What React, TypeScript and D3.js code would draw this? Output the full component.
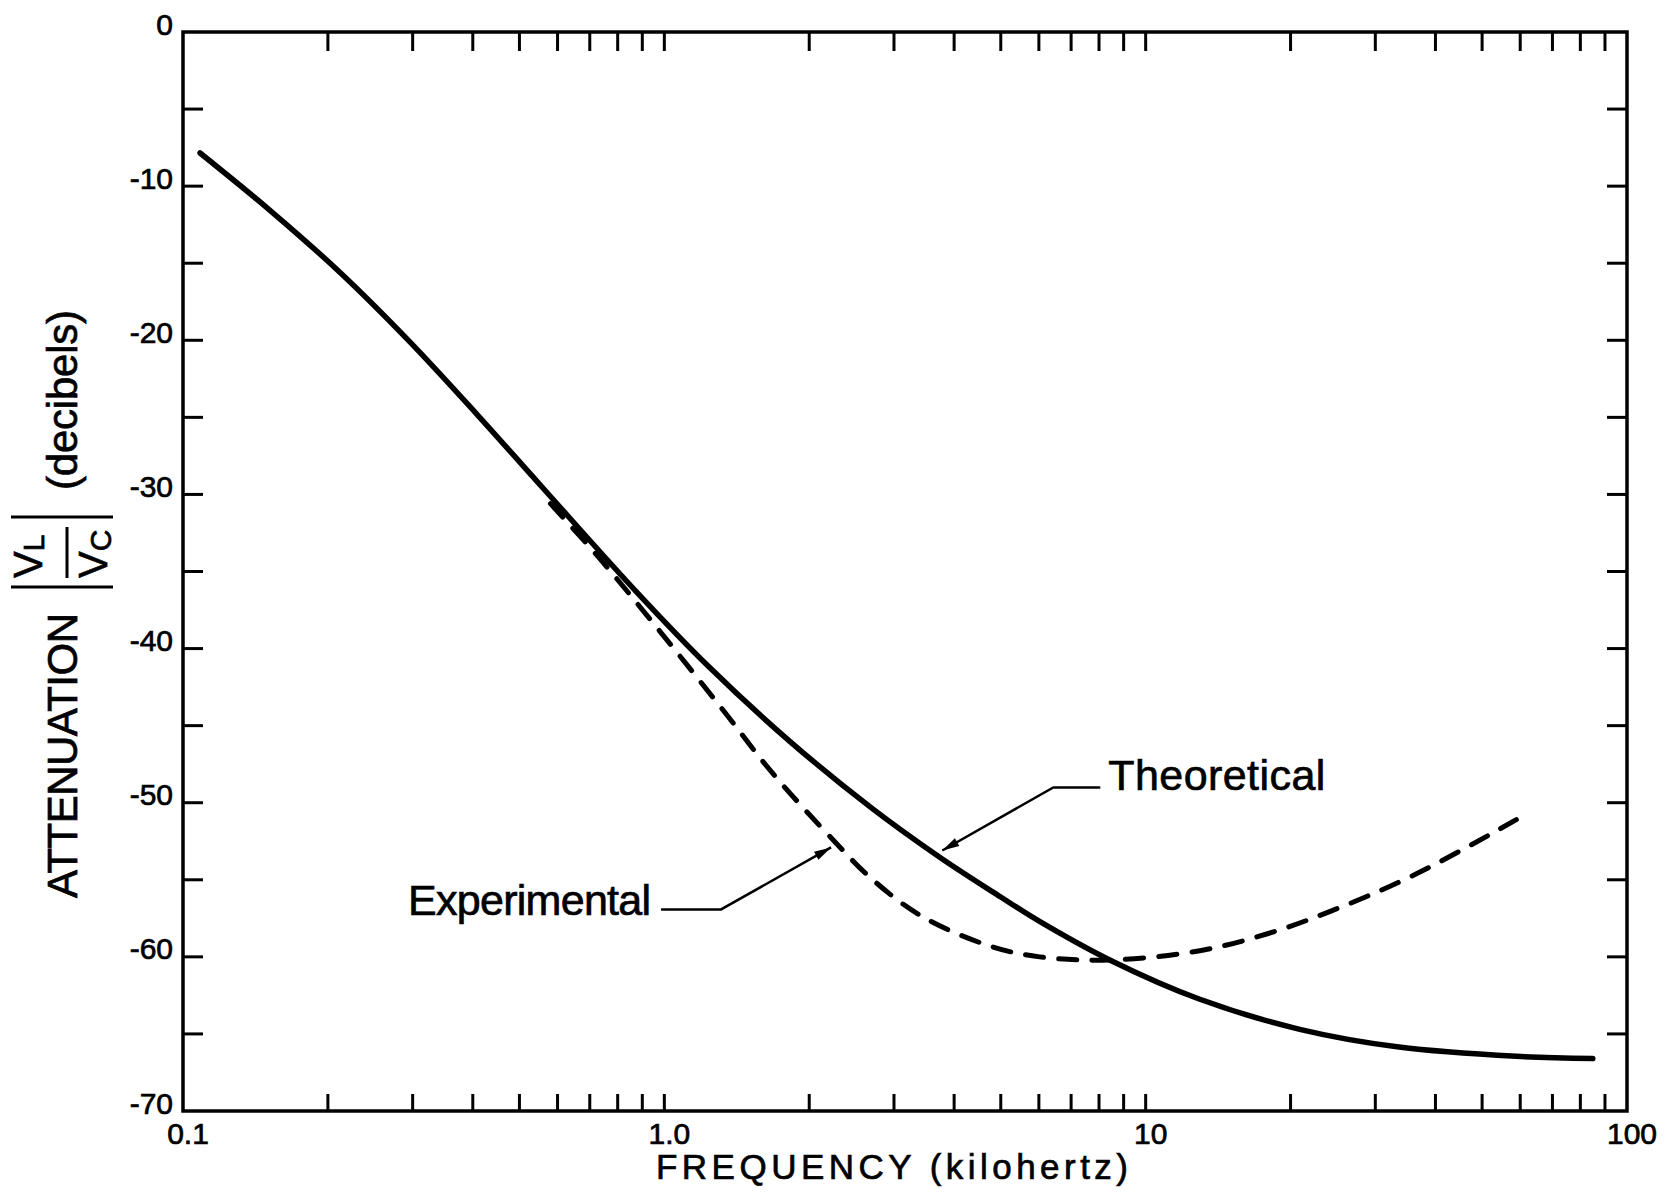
import React, { useEffect, useRef, useState } from 'react';
import * as d3 from 'd3';

// Theoretical curve (frequency kHz, attenuation dB)
const theoFreq = [0.1085, 0.152, 0.212, 0.296, 0.408, 0.56, 0.88, 1.23, 1.82, 2.71, 3.74, 4.99, 6.02, 8.42, 12.96, 20.9, 33.6, 58.9, 84.9];
const theoDb = [-7.85, -11.6, -15.6, -20.1, -24.8, -29.6, -36.4, -41.1, -46.0, -50.4, -53.55, -56.1, -57.7, -60.2, -62.75, -64.7, -65.85, -66.45, -66.6];

// Experimental curve
const expFreq = [0.58, 0.736, 0.98, 1.325, 1.68, 2.24, 2.71, 3.44, 4.75, 6.02, 8.42, 12.96, 17.9, 24.4, 36.6, 58.9];
const expDb = [-30.6, -34.2, -38.9, -44.0, -48.1, -52.4, -55.0, -57.4, -59.3, -60.0, -60.2, -59.6, -58.5, -57.0, -54.6, -51.1];

const xLabelValues = [0.1, 1, 10, 100];
const xTickLabels = ['0.1', '1.0', '10', '100'];
const yLabelValues = [0, -10, -20, -30, -40, -50, -60, -70];
const yTickLabels = ['0', '-10', '-20', '-30', '-40', '-50', '-60', '-70'];

// Annotation arrow tips (data coordinates)
const expTip = [2.22, -52.9];
const theoTip = [3.78, -53.1];

const FONT = '"Liberation Sans", Arial, sans-serif';

function arrowHead(tx: number, ty: number, fx: number, fy: number, len = 17, hw = 4.5) {
  const a = Math.atan2(ty - fy, tx - fx);
  const bx = tx - len * Math.cos(a);
  const by = ty - len * Math.sin(a);
  const px = -Math.sin(a) * hw;
  const py = Math.cos(a) * hw;
  return `M${tx},${ty}L${bx + px},${by + py}L${bx - px},${by - py}Z`;
}

export default function App() {
  const W = 1677, H = 1202;
  const L = 183, R = 1627, T = 32, B = 1111;
  const x = d3.scaleLog().domain([0.1, 100]).range([L, R]);
  const y = d3.scaleLinear().domain([0, -70]).range([T, B]);

  const line = d3.line<[number, number]>()
    .x(d => x(d[0]))
    .y(d => y(d[1]))
    .curve(d3.curveCatmullRom.alpha(0.5));

  const theo = theoFreq.map((f, i) => [f, theoDb[i]] as [number, number]);
  const exp = expFreq.map((f, i) => [f, expDb[i]] as [number, number]);

  const xTicks = x.ticks().filter(v => v > 0.1 * 1.001 && v < 100 * 0.999);
  const yTicks = d3.range(-5, -70, -5);

  // dashed pattern fitted so the curve ends on a dash
  const expRef = useRef<SVGPathElement | null>(null);
  const [dash, setDash] = useState('18 15');
  useEffect(() => {
    const el = expRef.current;
    if (!el) return;
    const len = el.getTotalLength();
    const d0 = 18, g0 = 15;
    const n = Math.max(1, Math.round((len - d0) / (d0 + g0)));
    const k = len / (n * (d0 + g0) + d0);
    setDash(`${(d0 * k).toFixed(3)} ${(g0 * k).toFixed(3)}`);
  }, []);

  // annotations
  const eTx = x(expTip[0]), eTy = y(expTip[1]);
  const eElbX = eTx - 110, eElbY = eTy + 62;
  const eEndX = eElbX - 60;
  const tTx = x(theoTip[0]), tTy = y(theoTip[1]);
  const tElbX = tTx + 111, tElbY = tTy - 63;
  const tEndX = tElbX + 47;

  const txtStroke = { stroke: '#000', strokeWidth: 0.7 };

  return (
    <svg width={W} height={H} style={{ position: 'absolute', left: 0, top: 0, background: '#fff', display: 'block' }}>
      <rect x={0} y={0} width={W} height={H} fill="#fff" />
      {/* frame */}
      <rect x={L} y={T} width={R - L} height={B - T} fill="none" stroke="#000" strokeWidth={3.5} />
      {/* x ticks */}
      {xTicks.map((v, i) => (
        <g key={'xt' + i} stroke="#000" strokeWidth={3}>
          <line x1={x(v)} x2={x(v)} y1={B} y2={B - 17} />
          <line x1={x(v)} x2={x(v)} y1={T} y2={T + 19} />
        </g>
      ))}
      {/* y ticks */}
      {yTicks.map((v, i) => (
        <g key={'yt' + i} stroke="#000" strokeWidth={3}>
          <line x1={L} x2={L + 20} y1={y(v)} y2={y(v)} />
          <line x1={R} x2={R - 20} y1={y(v)} y2={y(v)} />
        </g>
      ))}
      {/* y labels */}
      {yLabelValues.map((v, i) => (
        <text key={'yl' + i} x={173} y={y(v) - 8} fontFamily={FONT} fontSize={30} textAnchor="end" dominantBaseline="central" {...txtStroke}>
          {yTickLabels[i]}
        </text>
      ))}
      {/* x labels */}
      {xLabelValues.map((v, i) => (
        <text key={'xl' + i} x={x(v) + 5} y={1144} fontFamily={FONT} fontSize={30} textAnchor="middle" {...txtStroke}>
          {xTickLabels[i]}
        </text>
      ))}
      {/* x title */}
      <text x={656} y={1179} fontFamily={FONT} fontSize={35} textLength={472} lengthAdjust="spacing" {...txtStroke}>
        FREQUENCY (kilohertz)
      </text>
      {/* y title */}
      <g transform="translate(77,0) rotate(-90)" fontFamily={FONT}>
        <text x={-898} y={0} fontSize={42} textLength={285} lengthAdjust="spacing" {...txtStroke}>ATTENUATION</text>
        <line x1={-587} x2={-587} y1={-66} y2={36} stroke="#000" strokeWidth={3} />
        <line x1={-517} x2={-517} y1={-66} y2={36} stroke="#000" strokeWidth={3} />
        <line x1={-578} x2={-527} y1={-10} y2={-10} stroke="#000" strokeWidth={3} />
        <text x={-578} y={-35} fontSize={40} {...txtStroke}>V<tspan fontSize={30} dy={2}>L</tspan></text>
        <text x={-578} y={30} fontSize={40} {...txtStroke}>V<tspan fontSize={30} dy={4}>C</tspan></text>
        <text x={-490} y={0} fontSize={42} textLength={180} lengthAdjust="spacing" {...txtStroke}>(decibels)</text>
      </g>
      {/* curves */}
      <path d={line(theo) || ''} fill="none" stroke="#000" strokeWidth={5.5} strokeLinecap="round" strokeLinejoin="round" />
      <path ref={expRef} d={line(exp) || ''} fill="none" stroke="#000" strokeWidth={5} strokeLinecap="round" strokeDasharray={dash} />
      {/* annotations */}
      <g stroke="#000" strokeWidth={2.5} fill="none">
        <polyline points={`${eEndX},${eElbY} ${eElbX},${eElbY} ${eTx},${eTy}`} />
        <polyline points={`${tEndX},${tElbY} ${tElbX},${tElbY} ${tTx},${tTy}`} />
      </g>
      <path d={arrowHead(eTx, eTy, eElbX, eElbY)} fill="#000" />
      <path d={arrowHead(tTx, tTy, tElbX, tElbY)} fill="#000" />
      <text x={eEndX - 10} y={eElbY + 6} fontFamily={FONT} fontSize={43} textAnchor="end" textLength={243} lengthAdjust="spacing" {...txtStroke}>Experimental</text>
      <text x={tEndX + 8} y={tElbY + 3} fontFamily={FONT} fontSize={43} textLength={217} lengthAdjust="spacing" {...txtStroke}>Theoretical</text>
    </svg>
  );
}
